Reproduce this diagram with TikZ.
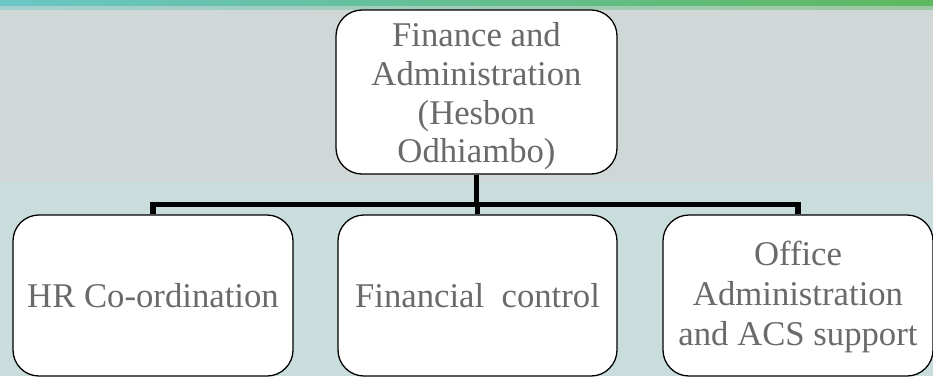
\documentclass[tikz,border=0pt]{standalone}
\usepackage{fontspec}
\setmainfont{Liberation Serif}
\definecolor{bgtop}{HTML}{D0D7D7}
\definecolor{bgbot}{HTML}{C9DDDC}
\definecolor{bandL}{HTML}{6CC6C6}
\definecolor{bandR}{HTML}{5DB85E}
\definecolor{txt}{HTML}{6A6A6A}
\tikzset{
  orgbox/.style={draw=black, line width=1.3pt, fill=white, rounded corners=26pt,
    align=center, text=txt, font=\fontsize{34.7}{40}\selectfont, inner sep=0pt},
  conn/.style={line width=5.5pt, draw=black}
}
\begin{document}
\begin{tikzpicture}[x=1pt,y=-1pt]
\useasboundingbox (0,0) rectangle (933,376);
\fill[bgtop] (0,0) rectangle (933,182);
\fill[bgbot] (0,182) rectangle (933,376);
\shade[left color=bandL, right color=bandR] (0,0) rectangle (933,6);
\shade[left color=bandL!45!bgtop, right color=bandR!45!bgtop] (0,6) rectangle (933,9);
\node[orgbox, font=\fontsize{34.7}{38.7}\selectfont, minimum width=281pt, minimum height=164pt] (top) at (476.5,92) {\rule{0pt}{33pt}Finance and\\Administration\\(Hesbon\\Odhiambo)};
\node[orgbox, minimum width=280pt, minimum height=161pt] (hr) at (153,295.5) {HR Co-ordination};
\node[orgbox, minimum width=279pt, minimum height=161pt] (fin) at (477.5,295.5) {Financial\ \ control};
\node[orgbox, minimum width=270pt, minimum height=161pt] (off) at (798,295.5) {\rule{0pt}{28pt}Office\\Administration\\and ACS support};
\coordinate (bus) at (476.5,204.5);
\draw[conn] (top.south) -- (bus);
\draw[conn] (hr.north) -- (hr.north |- bus) -- (off.north |- bus) -- (off.north);
\draw[conn] (fin.north) -- (fin.north |- bus);
\end{tikzpicture}
\end{document}
